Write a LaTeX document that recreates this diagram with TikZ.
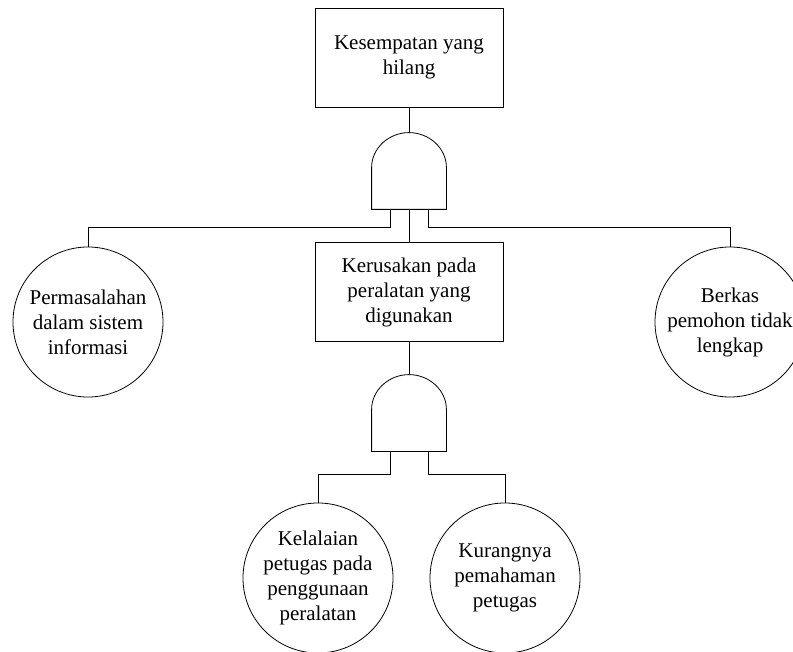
\documentclass[tikz,border=0pt]{standalone}
\usepackage{fontspec}
\setmainfont{Liberation Serif}
\usetikzlibrary{calc}
\tikzset{
  box/.style={draw, minimum width=188pt, minimum height=99pt, align=center, inner sep=0pt},
  evt/.style={draw, circle, minimum size=150pt, inner sep=0pt, align=center},
  gate/.style={minimum width=74pt, minimum height=76pt, inner sep=0pt},
  every path/.style={line width=0.8pt}
}
\newcommand\andgate[1]{%
  \draw (#1.south west) -- ($(#1.south west)+(0,-42)$)
    .. controls ($(#1.south west)+(0,-61)$) and ($(#1.north)+(-20.4,0)$) .. (#1.north)
    .. controls ($(#1.north)+(20.4,0)$) and ($(#1.south east)+(0,-61)$) .. ($(#1.south east)+(0,-42)$)
    -- (#1.south east) -- cycle;}
\begin{document}
\begin{tikzpicture}[x=1pt,y=-1pt,font=\fontsize{21}{25}\selectfont]
\useasboundingbox (0,0) rectangle (793,652);
\node[box] (top) at (409,57.5) {Kesempatan yang\\hilang};
\node[gate] (g1) at (409,171) {};
\andgate{g1}
\node[box] (mid) at (409,292) {Kerusakan pada\\peralatan yang\\digunakan};
\node[gate] (g2) at (409,413) {};
\andgate{g2}
\node[evt] (c1) at (88,322) {Permasalahan\\dalam sistem\\informasi};
\node[evt] (c2) at (730,322) {Berkas\\pemohon tidak\\lengkap};
\node[evt] (c3) at (318,578) {Kelalaian\\petugas pada\\penggunaan\\peralatan};
\node[evt] (c4) at (505,578) {Kurangnya\\pemahaman\\petugas};
\coordinate (g1l) at ($(g1.south)+(-19,0)$);
\coordinate (g1r) at ($(g1.south)+(19,0)$);
\coordinate (g2l) at ($(g2.south)+(-19,0)$);
\coordinate (g2r) at ($(g2.south)+(19,0)$);
\draw (top.south) -- (g1.north);
\draw (g1.south) -- (mid.north);
\draw (g1l) -- ++(0,18) -| (c1.north);
\draw (g1r) -- ++(0,18) -| (c2.north);
\draw (mid.south) -- (g2.north);
\draw (g2l) -- ++(0,23) -| (c3.north);
\draw (g2r) -- ++(0,23) -| (c4.north);
\end{tikzpicture}
\end{document}
